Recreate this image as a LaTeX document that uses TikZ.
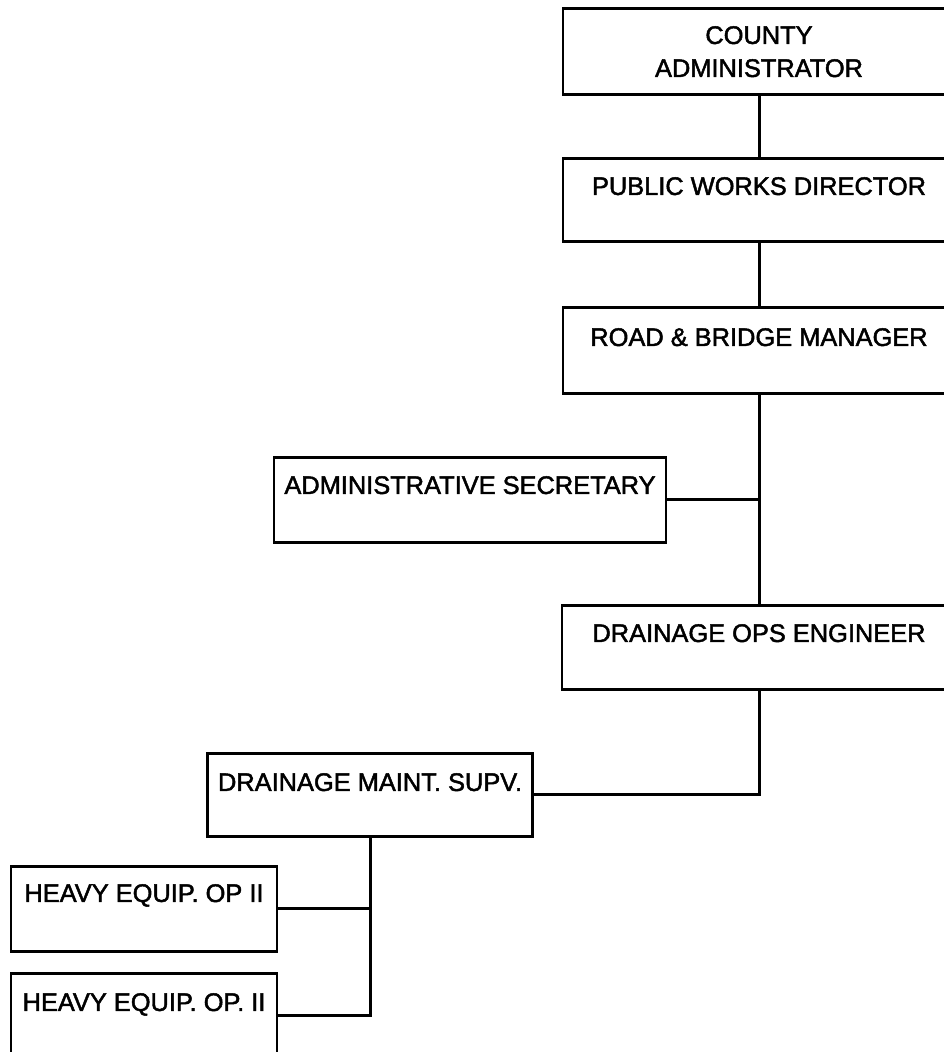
\documentclass[tikz,border=0pt]{standalone}
\usepackage{fontspec}
\setmainfont{Liberation Sans}
\newfontfamily\boxfont[FakeBold=1.8]{Liberation Sans}
\begin{document}
\begin{tikzpicture}[x=1pt,y=-1pt,
  orgbox/.style={draw=black, line width=2.8pt, inner sep=0pt, anchor=north,
                 minimum width=#1},
  title/.style={anchor=north, inner sep=0pt, align=center,
                font=\boxfont\fontsize{25.4}{33}\selectfont},
  link/.style={draw=black, line width=3pt, line join=miter}]
\useasboundingbox (0,0) rectangle (944,1052);
\clip (0,0) rectangle (944,1052);

% management chain on the right
\node[orgbox=392pt, minimum height=86pt] (admin) at (759,7) {};
\node[title] (tadmin) at (759,26) {COUNTY\\ADMINISTRATOR};

\node[orgbox=392pt, minimum height=83pt] (pwd) at (759,157) {};
\node[title] (tpwd) at (759,177) {PUBLIC WORKS DIRECTOR};

\node[orgbox=392pt, minimum height=86pt] (rbm) at (759,306) {};
\node[title] (trbm) at (759,328) {ROAD \& BRIDGE MANAGER};

\node[orgbox=392pt, minimum height=85pt] (sec) at (470,456) {};
\node[title] (tsec) at (470,476) {ADMINISTRATIVE SECRETARY};

\node[orgbox=394pt, minimum height=84pt] (ops) at (759,604) {};
\node[title] (tops) at (759,624) {DRAINAGE OPS ENGINEER};

% drainage maintenance crew
\node[orgbox=325pt, minimum height=83pt] (supv) at (370,752) {};
\node[title] (tsupv) at (370,773) {DRAINAGE MAINT. SUPV.};

\node[orgbox=266pt, minimum height=85pt] (op1) at (144,865) {};
\node[title] (top1) at (144,884) {HEAVY EQUIP. OP II};

\node[orgbox=266pt, minimum height=84pt] (op2) at (144,972) {};
\node[title] (top2) at (144,993) {HEAVY EQUIP. OP. II};

% reporting lines
\draw[link] (admin.south) -- (pwd.north);
\draw[link] (pwd.south) -- (rbm.north);
\draw[link] (rbm.south) -- (ops.north);
\draw[link] (sec.east) -- (sec.east -| rbm.south);
\draw[link] (ops.south) |- (supv.east);
\draw[link] (op2.east) -| (supv.south);
\draw[link] (op1.east) -- (op1.east -| supv.south);
\end{tikzpicture}
\end{document}
